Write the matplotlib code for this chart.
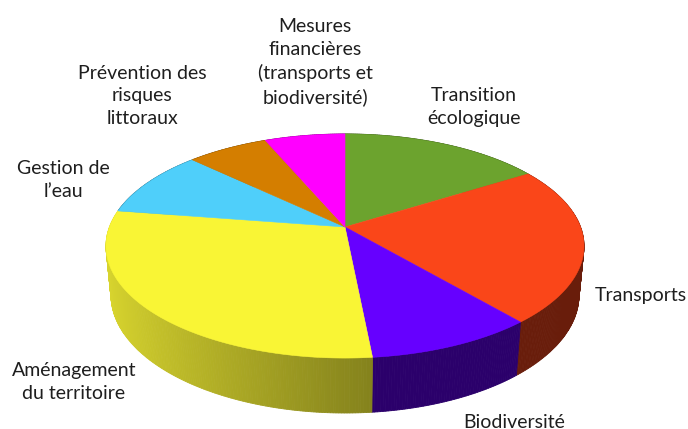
import numpy as np
import matplotlib
matplotlib.use("Agg")
import matplotlib.pyplot as plt
from matplotlib.patches import Polygon

categories = ["Transition\nécologique", "Transports", "Biodiversité",
              "Aménagement\ndu territoire", "Gestion de\nl’eau",
              "Prévention des\nrisques\nlittoraux",
              "Mesures\nfinancières\n(transports et\nbiodiversité)"]
values = [16.1, 22.7, 9.7, 29.0, 9.7, 6.5, 6.4]
colors = ["#6ca32e", "#fa4619", "#6600ff", "#f9f535", "#4fcffa", "#d47e00", "#ff00ff"]
label_pos = [(474, 107), (641, 296), (514, 422), (74, 382), (63, 180), (142, 96), (315, 62)]

# projection parameters (pixel space)
CX, CY = 345, 227
F, D = 1232.0, 5.23
SA, CA = 0.462, 0.887
H = 0.237

def proj(u, v, w):
    xc = u
    yc = v * SA + w * CA
    zc = D + v * CA - w * SA
    return CX + F * xc / zc, CY - F * yc / zc

fig = plt.figure(figsize=(6.88, 4.29), dpi=100)
ax = fig.add_axes([0, 0, 1, 1])
ax.set_xlim(0, 688)
ax.set_ylim(429, 0)
ax.axis("off")

vals = np.array(values, dtype=float)
bounds = np.concatenate([[0], np.cumsum(vals) / vals.sum() * 2 * np.pi])

def shade_color(col, k):
    r, g, b = matplotlib.colors.to_rgb(col)
    return (r * k, g * k, b * k)

# rims
quads = []
for i, col in enumerate(colors):
    a0, a1 = bounds[i], bounds[i + 1]
    n = max(4, int((a1 - a0) / 0.01))
    th = np.linspace(a0, a1, n + 1)
    for j in range(n):
        t0, t1 = th[j], th[j + 1]
        tm = 0.5 * (t0 + t1)
        u = np.sin(tm)
        if i == 3:
            k = 0.88 - (u + 1) / 1.1 * 0.35
        else:
            k = 0.42
        pts = [proj(np.sin(t0), np.cos(t0), 0), proj(np.sin(t1), np.cos(t1), 0),
               proj(np.sin(t1), np.cos(t1), -H), proj(np.sin(t0), np.cos(t0), -H)]
        quads.append((np.cos(tm), pts, shade_color(col, k)))
quads.sort(key=lambda q: -q[0])
for _, pts, c in quads:
    ax.add_patch(Polygon(pts, closed=True, facecolor=c, edgecolor=c, linewidth=0.6))

# tops
for i, col in enumerate(colors):
    a0, a1 = bounds[i], bounds[i + 1]
    th = np.linspace(a0, a1, 200)
    pts = [proj(0, 0, 0)] + [proj(np.sin(t), np.cos(t), 0) for t in th]
    ax.add_patch(Polygon(pts, closed=True, facecolor=col, edgecolor=col, linewidth=0.4))

for lab, (x, y) in zip(categories, label_pos):
    ax.text(x, y, lab, ha="center", va="center", fontsize=14, family="Lato",
            color="#1e1e1e", linespacing=1.42)

fig.savefig("out.png", dpi=100)
